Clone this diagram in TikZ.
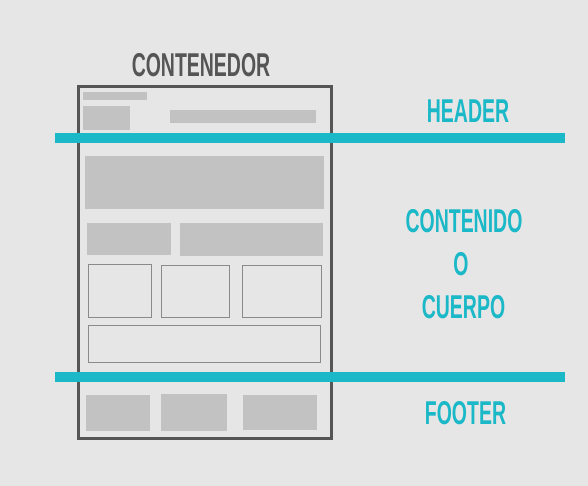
\documentclass[tikz,border=0pt]{standalone}
\usepackage{fontspec}
\newfontfamily\labelfont[FakeStretch=0.59]{Liberation Sans Bold}
\definecolor{pagebg}{HTML}{E6E6E6}
\definecolor{frame}{HTML}{555555}
\definecolor{block}{HTML}{C2C2C2}
\definecolor{outline}{HTML}{8A8A8A}
\definecolor{accent}{HTML}{1BB8C8}
\tikzset{
  blockbox/.style={fill=block, draw=none},
  outlinebox/.style={draw=outline, line width=1pt},
  divider/.style={draw=accent, line width=9.5pt},
  title/.style={text=frame, font=\labelfont\fontsize{33}{33}\selectfont, inner sep=0pt, anchor=base},
  zone/.style={text=accent, font=\labelfont\fontsize{33}{33}\selectfont, inner sep=0pt, anchor=base},
}
\begin{document}
\begin{tikzpicture}[x=1pt, y=-1pt]
  \fill[pagebg] (0,0) rectangle (588,486);
  \useasboundingbox (0,0) rectangle (588,486);

  % header blocks
  \fill[blockbox] (83,92) rectangle (147,100);
  \fill[blockbox] (83,106) rectangle (130,130);
  \fill[blockbox] (170,110) rectangle (316,123);

  % body blocks
  \fill[blockbox] (85,156) rectangle (324,209);
  \fill[blockbox] (87,223) rectangle (171,255);
  \fill[blockbox] (180,223) rectangle (323,256);
  \draw[outlinebox] (88.5,264.5) rectangle (151,317);
  \draw[outlinebox] (161,265) rectangle (229,317);
  \draw[outlinebox] (242,265) rectangle (321,317);
  \draw[outlinebox] (88.5,325) rectangle (320,362);

  % footer blocks
  \fill[blockbox] (86,395) rectangle (150,431);
  \fill[blockbox] (161,394) rectangle (227,431);
  \fill[blockbox] (243,395) rectangle (317,430);

  % container frame
  \draw[frame, line width=3pt] (78.5,86.5) rectangle (331.5,438);

  % section dividers
  \coordinate (h1) at (55,138);
  \coordinate (h2) at (565,138);
  \coordinate (f1) at (55,377);
  \coordinate (f2) at (565,377);
  \draw[divider] (h1) -- (h2);
  \draw[divider] (f1) -- (f2);

  % labels
  \node[title] (contenedor) at (201,77) {CONTENEDOR};
  \node[zone] (header) at (468,123) {HEADER};
  \node[zone] (contenido) at (464,232) {CONTENIDO};
  \node[zone] (o) at (461,275) {O};
  \node[zone] (cuerpo) at (463.5,318) {CUERPO};
  \node[zone] (footer) at (465.5,424) {FOOTER};
\end{tikzpicture}
\end{document}
